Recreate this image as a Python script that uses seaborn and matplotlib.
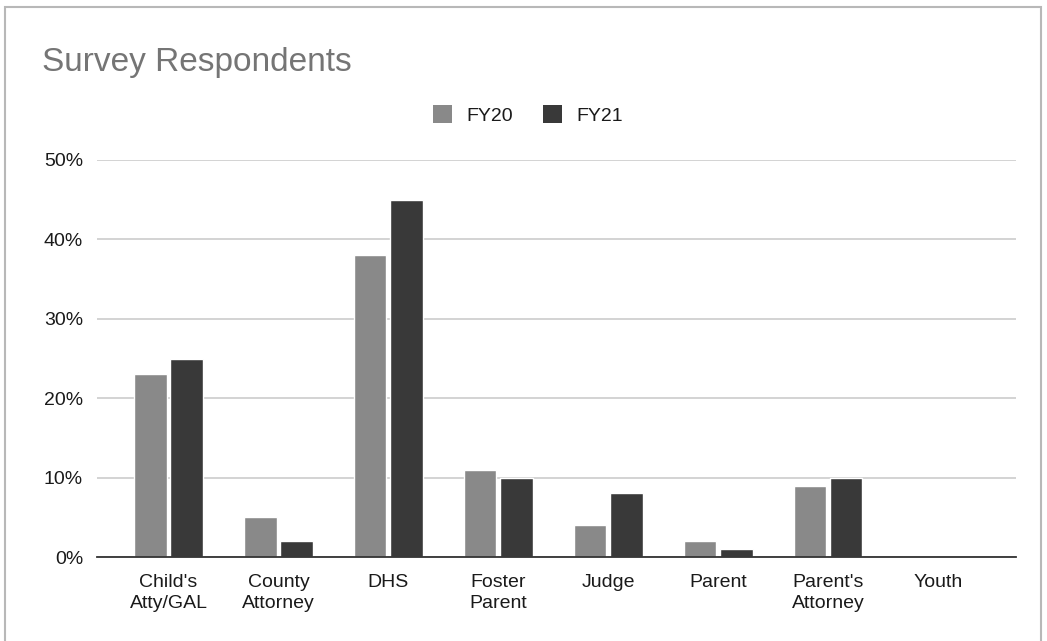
import matplotlib
matplotlib.use("Agg")
import matplotlib.pyplot as plt
from matplotlib.patches import Rectangle
from matplotlib.ticker import PercentFormatter
import seaborn as sns
import pandas as pd

# Share of survey respondents by role
categories = ["Child's\nAtty/GAL", "County\nAttorney", "DHS", "Foster\nParent",
              "Judge", "Parent", "Parent's\nAttorney", "Youth"]
fy20 = [23, 5, 38, 11, 4, 2, 9, 0]
fy21 = [25, 2, 45, 10, 8, 1, 10, 0]
series = ["FY20", "FY21"]
colors = ["#898989", "#393939"]

df = pd.DataFrame({
    "Role": categories * 2,
    "Year": [series[0]] * len(categories) + [series[1]] * len(categories),
    "Share": fy20 + fy21,
})

sns.set_theme(style="white")
plt.rcParams["font.family"] = ["Liberation Sans", "DejaVu Sans"]

fig = plt.figure(figsize=(10.47, 6.41), dpi=100)
ax = fig.add_axes([97 / 1047, 84 / 641, 919 / 1047, 397 / 641])

sns.barplot(data=df, x="Role", y="Share", hue="Year", palette=colors,
            width=0.66, gap=0.1, order=categories, hue_order=series,
            saturation=1, ax=ax, legend=False)

ax.set_ylim(0, 50)
ax.set_xlim(-0.65, 7.71)
ax.yaxis.set_major_formatter(PercentFormatter(decimals=0))
ax.set_yticks([0, 10, 20, 30, 40, 50])
ax.grid(axis="y", color="#cccccc", linewidth=1.2)
ax.set_axisbelow(True)
for side in ["top", "right", "left"]:
    ax.spines[side].set_visible(False)
ax.spines["bottom"].set_color("#333333")
ax.spines["bottom"].set_linewidth(1.3)
ax.spines["bottom"].set_zorder(5)
ax.set_xlabel("")
ax.set_ylabel("")
ax.tick_params(axis="both", length=0, labelsize=14, colors="#1a1a1a")
ax.tick_params(axis="x", pad=12)
ax.tick_params(axis="y", pad=10)
for lbl in ax.get_xticklabels():
    lbl.set_linespacing(1.35)

fig.text(42 / 1047, 1 - 62 / 641, "Survey Respondents", fontsize=24,
         color="#757575", va="center", ha="left")

handles = [Rectangle((0, 0), 1, 1, facecolor=c, edgecolor="none") for c in colors]
fig.legend(handles, series, loc="center", bbox_to_anchor=(528 / 1047, 1 - 115 / 641),
           ncol=2, frameon=False, fontsize=14, handlelength=1.0, handleheight=1.0,
           handletextpad=0.75, columnspacing=1.5, labelcolor="#1a1a1a")

fig.patches.append(Rectangle((5 / 1047, -0.1), 1036 / 1047, 1.1 - 7 / 641,
                             transform=fig.transFigure, fill=False,
                             edgecolor="#b8b8b8", linewidth=1.5))

fig.savefig("out.png", dpi=100)
